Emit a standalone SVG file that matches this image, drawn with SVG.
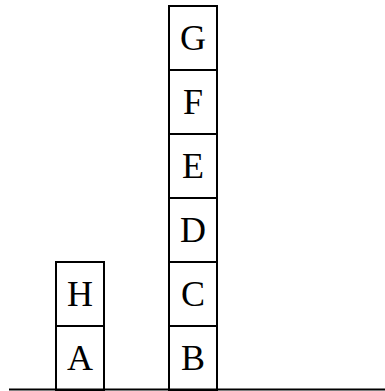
<svg xmlns="http://www.w3.org/2000/svg" width="385" height="391" viewBox="0 0 385 391">
<style>
.b rect{fill:#fff;stroke:#000;stroke-width:2}
.b text{font-family:"Liberation Serif",serif;font-size:36px;text-anchor:middle;fill:#000}
</style>
<g id="A" class="b"><rect x="56" y="326" width="48" height="64"/><text x="80" y="370">A</text></g>
<g id="H" class="b"><rect x="56" y="262" width="48" height="64"/><text x="80" y="306">H</text></g>
<g id="B" class="b"><rect x="169" y="326" width="48" height="64"/><text x="193" y="370">B</text></g>
<g id="C" class="b"><rect x="169" y="262" width="48" height="64"/><text x="193" y="306">C</text></g>
<g id="D" class="b"><rect x="169" y="198" width="48" height="64"/><text x="193" y="242">D</text></g>
<g id="E" class="b"><rect x="169" y="134" width="48" height="64"/><text x="193" y="178">E</text></g>
<g id="F" class="b"><rect x="169" y="70" width="48" height="64"/><text x="193" y="114">F</text></g>
<g id="G" class="b"><rect x="169" y="6" width="48" height="64"/><text x="193" y="50">G</text></g>
<g id="connectors"><line x1="9" y1="389.5" x2="385" y2="389.5" stroke="#000" stroke-width="2"/></g>
</svg>
